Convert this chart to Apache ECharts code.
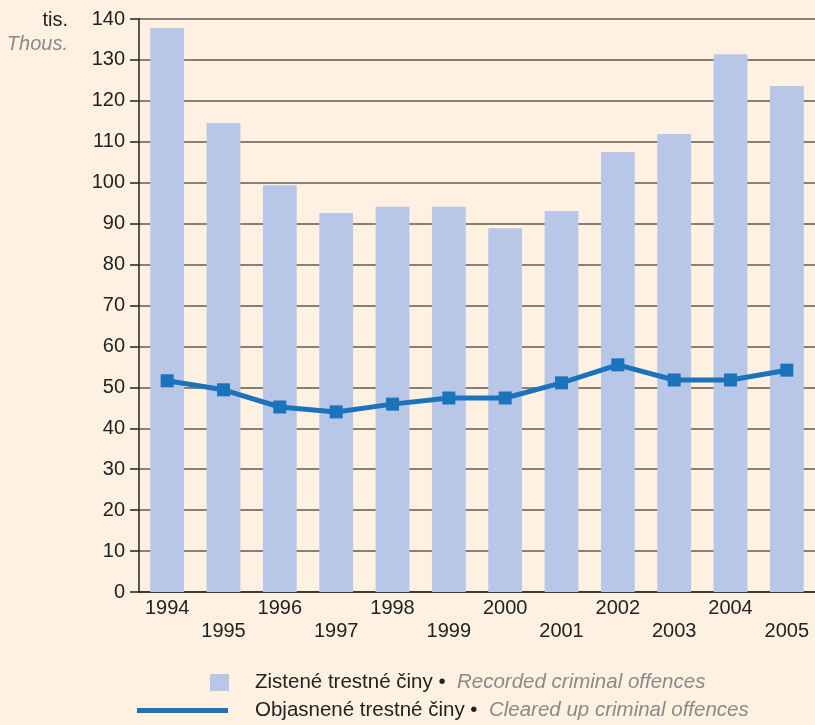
<!DOCTYPE html>
<html>
<head>
<meta charset="utf-8">
<script src="https://cdn.jsdelivr.net/npm/echarts@6/dist/echarts.min.js"></script>
<style>
  html, body { margin: 0; padding: 0; background: #fef1e2; }
  #chart { width: 815px; height: 725px; }
</style>
</head>
<body>
<div id="chart"></div>
<script>
var years = ["1994", "1995", "1996", "1997", "1998", "1999", "2000", "2001", "2002", "2003", "2004", "2005"];
var recorded = [137.8, 114.6, 99.4, 92.6, 94.1, 94.1, 88.9, 93.1, 107.5, 111.9, 131.4, 123.6];
var cleared = [51.6, 49.4, 45.2, 44.0, 45.9, 47.4, 47.4, 51.1, 55.5, 51.8, 51.8, 54.2];

var font = "'Liberation Sans', Arial, sans-serif";
var chart = echarts.init(document.getElementById("chart"));

chart.setOption({
  backgroundColor: "#fef1e2",
  textStyle: { fontFamily: font },
  grid: { left: 139, right: 0, top: 19, bottom: 133 },
  graphic: [
    { type: "text", right: 747, top: 10, style: { text: "tis.", font: "20px " + font, fill: "#222", textAlign: "right" } },
    { type: "text", right: 747, top: 34, style: { text: "Thous.", font: "italic 20px " + font, fill: "#8a8a8a", textAlign: "right" } }
  ],
  legend: [
    {
      data: ["Zistené trestné činy"],
      left: 205, top: 667, orient: "vertical",
      itemWidth: 19, itemHeight: 17, icon: "rect",
      formatter: function (n) { return n + " •  {i|Recorded criminal offences}"; },
      textStyle: { fontSize: 20.5, color: "#222", padding: [0, 0, 0, 21], rich: { i: { fontSize: 20.5, fontStyle: "italic", color: "#8a8a8a" } } }
    },
    {
      data: ["Objasnené trestné činy"],
      left: 132, top: 695, orient: "vertical",
      itemWidth: 91, itemHeight: 5, icon: "rect",
      formatter: function (n) { return n + " •  {i|Cleared up criminal offences}"; },
      textStyle: { fontSize: 20.5, color: "#222", padding: [0, 0, 0, 22], rich: { i: { fontSize: 20.5, fontStyle: "italic", color: "#8a8a8a" } } }
    }
  ],
  xAxis: {
    type: "category",
    data: years,
    axisLine: { lineStyle: { color: "#222", width: 1.5 } },
    axisTick: { show: false },
    axisLabel: {
      interval: 0, fontSize: 20, color: "#222", margin: 5, lineHeight: 23,
      formatter: function (v, i) { return i % 2 === 1 ? "\n" + v : v + "\n"; }
    }
  },
  yAxis: {
    type: "value", min: 0, max: 140, interval: 10,
    axisLine: { show: true, lineStyle: { color: "#222", width: 1.5 } },
    axisTick: { show: true, length: 9, lineStyle: { color: "#222", width: 1.5 } },
    axisLabel: { fontSize: 20, color: "#222", margin: 14 },
    splitLine: { lineStyle: { color: "#5e5a55", width: 1.5 } }
  },
  series: [
    {
      name: "Zistené trestné činy",
      type: "bar",
      data: recorded,
      barWidth: "60%",
      itemStyle: { color: "#b8c7e8" },
      z: 2
    },
    {
      name: "Objasnené trestné činy",
      type: "line",
      data: cleared,
      symbol: "rect",
      symbolSize: 13,
      lineStyle: { color: "#1b73bb", width: 5 },
      itemStyle: { color: "#1b73bb" },
      z: 3
    }
  ]
});
</script>
</body>
</html>
